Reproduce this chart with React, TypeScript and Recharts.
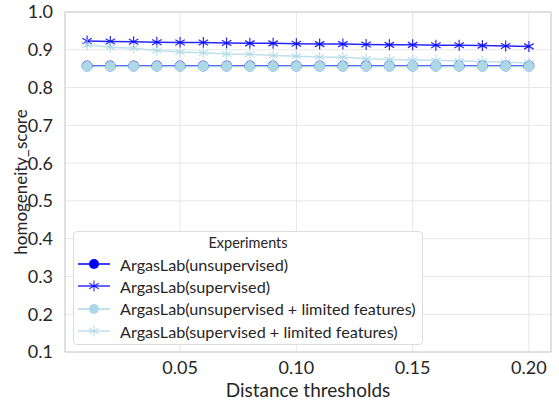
import React from 'react';
import { LineChart, Line, XAxis, YAxis, CartesianGrid, ReferenceArea } from 'recharts';

const thresholds = [0.01, 0.02, 0.03, 0.04, 0.05, 0.06, 0.07, 0.08, 0.09, 0.10, 0.11, 0.12, 0.13, 0.14, 0.15, 0.16, 0.17, 0.18, 0.19, 0.20];
const unsupervised = [0.857, 0.857, 0.857, 0.857, 0.857, 0.857, 0.857, 0.857, 0.857, 0.857, 0.857, 0.857, 0.857, 0.857, 0.857, 0.857, 0.857, 0.857, 0.857, 0.857];
const supervised = [0.923, 0.922, 0.921, 0.920, 0.919, 0.919, 0.918, 0.917, 0.917, 0.916, 0.915, 0.915, 0.914, 0.913, 0.913, 0.912, 0.912, 0.911, 0.910, 0.909];
const unsupervisedLimited = [0.856, 0.856, 0.856, 0.856, 0.856, 0.856, 0.856, 0.856, 0.856, 0.856, 0.856, 0.856, 0.856, 0.856, 0.856, 0.856, 0.856, 0.856, 0.856, 0.856];
const supervisedLimited = [0.913, 0.907, 0.904, 0.898, 0.894, 0.892, 0.889, 0.888, 0.885, 0.883, 0.881, 0.880, 0.876, 0.874, 0.873, 0.872, 0.870, 0.869, 0.867, 0.865];
const yTicks = [0.1, 0.2, 0.3, 0.4, 0.5, 0.6, 0.7, 0.8, 0.9, 1.0];
const xTicks = [0.05, 0.10, 0.15, 0.20];
const seriesNames = [
  'ArgasLab(unsupervised)',
  'ArgasLab(supervised)',
  'ArgasLab(unsupervised + limited features)',
  'ArgasLab(supervised + limited features)',
];

const data = thresholds.map((t, i) => ({
  t,
  a: unsupervised[i],
  b: supervised[i],
  c: unsupervisedLimited[i],
  d: supervisedLimited[i],
}));

const FONT = 'Lato, sans-serif';
const DARK = '#0000ff';
const LIGHT = '#add8e6';
const TEXT = '#262626';

const Circle = (color: string) => (props: any) => {
  const { cx, cy, index } = props;
  if (cx == null || cy == null) return null;
  return <circle key={`c${index}`} cx={cx} cy={cy} r={5} fill={color} stroke={color} strokeWidth={1} />;
};

const Star = (color: string, opacity: number) => (props: any) => {
  const { cx, cy, index } = props;
  if (cx == null || cy == null) return null;
  const r = 5.5;
  const dx = r * 0.866;
  const dy = r * 0.5;
  return (
    <g key={`s${index}`} stroke={color} strokeWidth={1.2} strokeOpacity={opacity}>
      <line x1={cx} y1={cy - r} x2={cx} y2={cy + r} />
      <line x1={cx - dx} y1={cy - dy} x2={cx + dx} y2={cy + dy} />
      <line x1={cx - dx} y1={cy + dy} x2={cx + dx} y2={cy - dy} />
    </g>
  );
};

const LegendBox = () => {
  const items = [
    { name: seriesNames[0], color: DARK, type: 'circle', op: 1 },
    { name: seriesNames[1], color: DARK, type: 'star', op: 0.8 },
    { name: seriesNames[2], color: LIGHT, type: 'circle', op: 1 },
    { name: seriesNames[3], color: LIGHT, type: 'star', op: 0.8 },
  ];
  return (
    <div
      style={{
        position: 'absolute',
        left: 73,
        top: 231,
        width: 350,
        height: 114,
        boxSizing: 'border-box',
        border: '1px solid #dddddd',
        borderRadius: 4,
        background: 'rgba(255,255,255,0.9)',
        fontFamily: FONT,
        color: TEXT,
        paddingTop: 1,
      }}
    >
      <div style={{ textAlign: 'center', fontSize: 14.5, lineHeight: '20px' }}>Experiments</div>
      {items.map((it) => (
        <div key={it.name} style={{ display: 'flex', alignItems: 'center', height: 22.3, fontSize: 16.2 }}>
          <svg width={46} height={20} style={{ flex: 'none' }}>
            <line x1={4} y1={10} x2={36} y2={10} stroke={it.color} strokeWidth={1.5} strokeOpacity={it.op} />
            {it.type === 'circle' ? (
              <circle cx={20} cy={10} r={5} fill={it.color} />
            ) : (
              <g stroke={it.color} strokeWidth={1.2} strokeOpacity={it.op}>
                <line x1={20} y1={4.5} x2={20} y2={15.5} />
                <line x1={15.2} y1={7.2} x2={24.8} y2={12.8} />
                <line x1={15.2} y1={12.8} x2={24.8} y2={7.2} />
              </g>
            )}
          </svg>
          <span style={{ whiteSpace: 'nowrap' }}>{it.name}</span>
        </div>
      ))}
    </div>
  );
};

const YLabel = (props: any) => {
  const vb = props.viewBox || {};
  const cy = vb.y + vb.height / 2;
  return (
    <text x={20} y={cy} transform={`rotate(-90, 20, ${cy})`} textAnchor="middle" dominantBaseline="central"
      fill={TEXT} fontSize={17} fontFamily={FONT}>
      homogeneity_score
    </text>
  );
};

const XLabel = (props: any) => {
  const vb = props.viewBox || {};
  const cx = vb.x + vb.width / 2;
  return (
    <text x={cx} y={389} textAnchor="middle" dominantBaseline="central" fill={TEXT} fontSize={19} fontFamily={FONT}>
      Distance thresholds
    </text>
  );
};

export default function App() {
  return (
    <div style={{ position: 'absolute', left: 0, top: 0, width: 559, height: 405, background: '#fff' }}>
      <LineChart width={559} height={405} data={data} margin={{ top: 12, right: 8, left: 0, bottom: 0 }}>
        <CartesianGrid stroke="#e6e6e6" strokeWidth={1} />
        <XAxis
          dataKey="t"
          type="number"
          domain={[0.0005, 0.2095]}
          ticks={xTicks}
          tickFormatter={(v: number) => v.toFixed(2)}
          height={53}
          axisLine={false}
          tickLine={false}
          tick={{ fill: TEXT, fontSize: 18, fontFamily: FONT }}
          tickMargin={3}
          label={<XLabel />}
        />
        <YAxis
          type="number"
          domain={[0.1, 1.0]}
          ticks={yTicks}
          tickFormatter={(v: number) => v.toFixed(1)}
          width={65}
          axisLine={false}
          tickLine={false}
          tick={{ fill: TEXT, fontSize: 18, fontFamily: FONT }}
          tickMargin={6}
          label={<YLabel />}
        />
        <ReferenceArea x1={0.0005} x2={0.2095} y1={0.1} y2={1.0} fill="none" stroke="#cccccc" strokeWidth={1} />
        <Line dataKey="a" name={seriesNames[0]} stroke={DARK} strokeWidth={1.5} dot={Circle(DARK)} isAnimationActive={false} />
        <Line dataKey="b" name={seriesNames[1]} stroke={DARK} strokeOpacity={0.85} strokeWidth={1.5} dot={Star(DARK, 0.85)} isAnimationActive={false} />
        <Line dataKey="c" name={seriesNames[2]} stroke={LIGHT} strokeWidth={1.5} dot={Circle(LIGHT)} isAnimationActive={false} />
        <Line dataKey="d" name={seriesNames[3]} stroke={LIGHT} strokeOpacity={0.8} strokeWidth={1.5} dot={Star(LIGHT, 0.8)} isAnimationActive={false} />
      </LineChart>
      <LegendBox />
    </div>
  );
}
